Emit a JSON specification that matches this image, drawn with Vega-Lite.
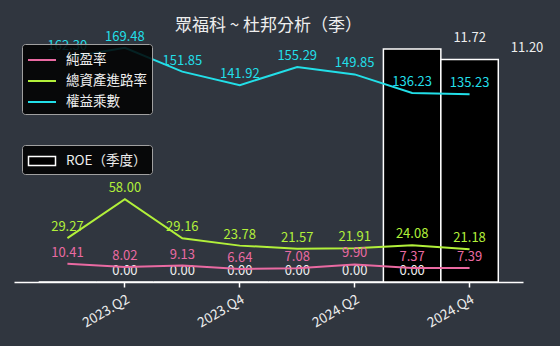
{
  "$schema": "https://vega.github.io/schema/vega-lite/v6.json",
  "width": 509,
  "height": 254,
  "autosize": {"type": "none"},
  "padding": {"left": 14, "top": 28, "right": 37, "bottom": 64},
  "background": "#30363f",
  "title": {"text": "眾福科 ~ 杜邦分析（季）", "color": "#eeeeee", "fontSize": 17, "font": "Noto Sans CJK TC", "fontWeight": "normal", "anchor": "middle", "offset": -7},
  "config": {
    "view": {"stroke": null},
    "font": "Noto Sans CJK TC",
    "axis": {"grid": false}
  },
  "datasets": {
    "roe": [
      {"q": "2023.Q1", "roe": 0},
      {"q": "2023.Q2", "roe": 0},
      {"q": "2023.Q3", "roe": 0},
      {"q": "2023.Q4", "roe": 0},
      {"q": "2024.Q1", "roe": 0},
      {"q": "2024.Q2", "roe": 0},
      {"q": "2024.Q3", "roe": 11.72},
      {"q": "2024.Q4", "roe": 11.20}
    ],
    "dupont": [
      {"q": "2023.Q1", "metric": "純盈率", "v": 10.41},
      {"q": "2023.Q2", "metric": "純盈率", "v": 8.02},
      {"q": "2023.Q3", "metric": "純盈率", "v": 9.13},
      {"q": "2023.Q4", "metric": "純盈率", "v": 6.64},
      {"q": "2024.Q1", "metric": "純盈率", "v": 7.08},
      {"q": "2024.Q2", "metric": "純盈率", "v": 9.90},
      {"q": "2024.Q3", "metric": "純盈率", "v": 7.37},
      {"q": "2024.Q4", "metric": "純盈率", "v": 7.39},
      {"q": "2023.Q1", "metric": "總資產進路率", "v": 29.27},
      {"q": "2023.Q2", "metric": "總資產進路率", "v": 58.00},
      {"q": "2023.Q3", "metric": "總資產進路率", "v": 29.16},
      {"q": "2023.Q4", "metric": "總資產進路率", "v": 23.78},
      {"q": "2024.Q1", "metric": "總資產進路率", "v": 21.57},
      {"q": "2024.Q2", "metric": "總資產進路率", "v": 21.91},
      {"q": "2024.Q3", "metric": "總資產進路率", "v": 24.08},
      {"q": "2024.Q4", "metric": "總資產進路率", "v": 21.18},
      {"q": "2023.Q1", "metric": "權益乘數", "v": 162.30},
      {"q": "2023.Q2", "metric": "權益乘數", "v": 169.48},
      {"q": "2023.Q3", "metric": "權益乘數", "v": 151.85},
      {"q": "2023.Q4", "metric": "權益乘數", "v": 141.92},
      {"q": "2024.Q1", "metric": "權益乘數", "v": 155.29},
      {"q": "2024.Q2", "metric": "權益乘數", "v": 149.85},
      {"q": "2024.Q3", "metric": "權益乘數", "v": 136.23},
      {"q": "2024.Q4", "metric": "權益乘數", "v": 135.23}
    ]
  },
  "encoding": {
    "x": {
      "field": "q",
      "type": "ordinal",
      "sort": null,
      "scale": {
        "type": "band",
        "domain": ["2023.Q1", "2023.Q2", "2023.Q3", "2023.Q4", "2024.Q1", "2024.Q2", "2024.Q3", "2024.Q4"],
        "paddingInner": 0,
        "paddingOuter": 0.43
      },
      "axis": {
        "values": ["2023.Q2", "2023.Q4", "2024.Q2", "2024.Q4"],
        "title": null,
        "labelAngle": -30,
        "domainColor": "#ffffff",
        "domainWidth": 1.5,
        "tickColor": "#ffffff",
        "tickSize": 5,
        "tickWidth": 1.5,
        "labelColor": "#eeeeee",
        "labelFontSize": 13.5,
        "labelPadding": 5
      }
    }
  },
  "layer": [
    {
      "data": {"name": "roe"},
      "encoding": {
        "y": {"field": "roe", "type": "quantitative", "scale": {"domain": [0, 12.78]}, "axis": null}
      },
      "layer": [
        {
          "mark": {"type": "bar", "stroke": "#ffffff", "strokeWidth": 1.5},
          "encoding": {
            "fill": {
              "datum": "ROE（季度）",
              "type": "nominal",
              "scale": {"range": ["#000000"]},
              "legend": {
                "orient": "none",
                "legendX": 8,
                "legendY": 117,
                "title": null,
                "symbolType": "M-1.35,-0.45H1.35V0.45H-1.35Z",
                "symbolSize": 400,
                "symbolStrokeColor": "#ffffff",
                "symbolStrokeWidth": 1.5,
                "symbolOffset": 4,
                "labelOffset": 13,
                "padding": 5,
                "fillColor": "rgba(0,0,0,0.85)",
                "strokeColor": "#a0a0a0",
                "cornerRadius": 3,
                "labelColor": "#eeeeee",
                "labelFontSize": 13.5,
                "labelFont": "Noto Sans CJK TC"
              }
            }
          }
        },
        {
          "mark": {"type": "text", "dx": 57.5, "dy": -4, "baseline": "bottom", "fontSize": 13, "color": "#eeeeee"},
          "encoding": {"text": {"field": "roe", "type": "quantitative", "format": ".2f"}}
        }
      ]
    },
    {
      "data": {"name": "dupont"},
      "encoding": {
        "y": {"field": "v", "type": "quantitative", "scale": {"domain": [-3, 184]}, "axis": null}
      },
      "layer": [
        {
          "mark": {"type": "line", "strokeWidth": 2},
          "encoding": {
            "color": {
              "field": "metric",
              "type": "nominal",
              "scale": {"domain": ["純盈率", "總資產進路率", "權益乘數"], "range": ["#ea6aa2", "#b2f03a", "#22dfe8"]},
              "legend": {
                "orient": "none",
                "legendX": 8,
                "legendY": 16,
                "title": null,
                "symbolType": "M-1.4,0H1.4",
                "symbolSize": 400,
                "symbolStrokeWidth": 2,
                "symbolOffset": 4,
                "labelOffset": 13,
                "padding": 5,
                "rowPadding": 3,
                "fillColor": "rgba(0,0,0,0.85)",
                "strokeColor": "#a0a0a0",
                "cornerRadius": 3,
                "labelColor": "#eeeeee",
                "labelFontSize": 13.5,
                "labelFont": "Noto Sans CJK TC"
              }
            }
          }
        },
        {
          "mark": {"type": "text", "dy": -4, "baseline": "bottom", "fontSize": 13},
          "encoding": {
            "text": {"field": "v", "type": "quantitative", "format": ".2f"},
            "color": {"field": "metric", "type": "nominal", "legend": null}
          }
        }
      ]
    }
  ],
  "resolve": {"scale": {"y": "independent"}}
}
